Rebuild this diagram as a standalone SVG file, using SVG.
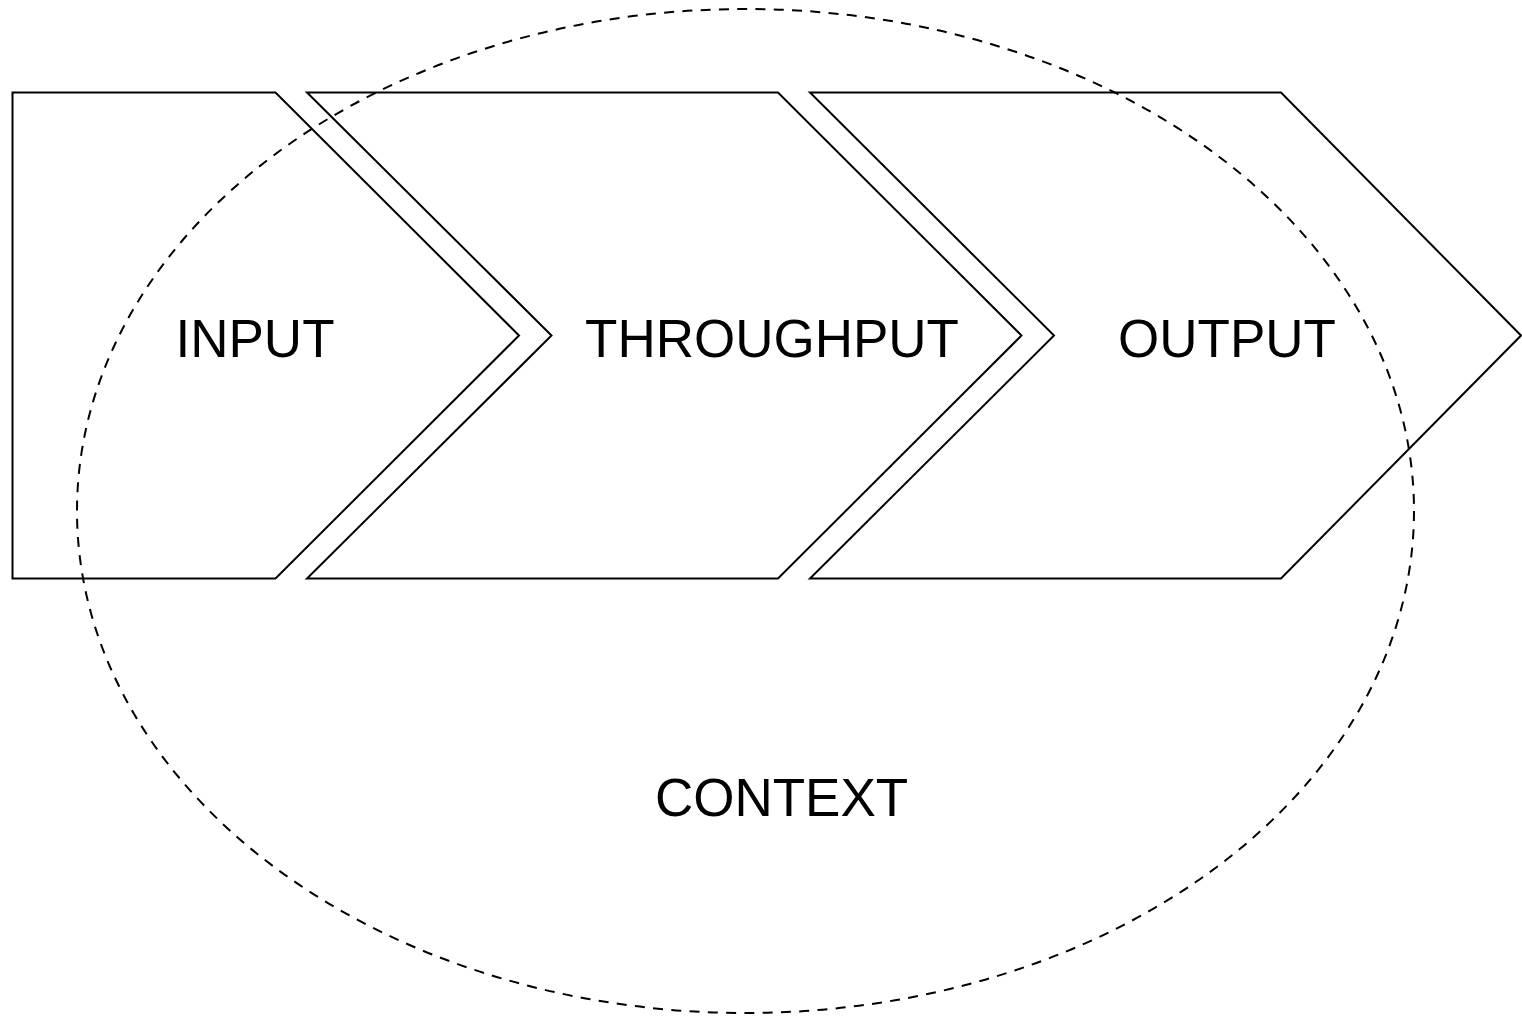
<svg xmlns="http://www.w3.org/2000/svg" width="1522" height="1016" viewBox="0 0 1522 1016">
<style>
.shape{fill:#fff;stroke:#000;stroke-width:2;stroke-linejoin:miter}
.ctx{fill:none;stroke:#000;stroke-width:2;stroke-dasharray:10 8.3}
.lbl{font-family:"Liberation Sans",Arial,sans-serif;font-size:53px;fill:#000;text-anchor:middle}
</style>
<rect width="1522" height="1016" fill="#fff"/>
<g id="input"><polygon class="shape" points="12.5,92.5 275.5,92.5 519,335.5 275.5,578.5 12.5,578.5"/></g>
<g id="throughput"><polygon class="shape" points="307,92.5 778,92.5 1021.5,335.5 778,578.5 307,578.5 551.5,335.5"/></g>
<g id="output"><polygon class="shape" points="810,92.5 1281,92.5 1521,335.5 1281,578.5 810,578.5 1054,335.5"/></g>
<g id="connectors"></g>
<g id="context"><ellipse class="ctx" cx="745.5" cy="511" rx="668.5" ry="502"/></g>
<g id="labels">
<text class="lbl" x="255" y="356.5">INPUT</text>
<text class="lbl" x="772" y="357">THROUGHPUT</text>
<text class="lbl" x="1227" y="357">OUTPUT</text>
<text class="lbl" x="781.5" y="816">CONTEXT</text>
</g>
</svg>
